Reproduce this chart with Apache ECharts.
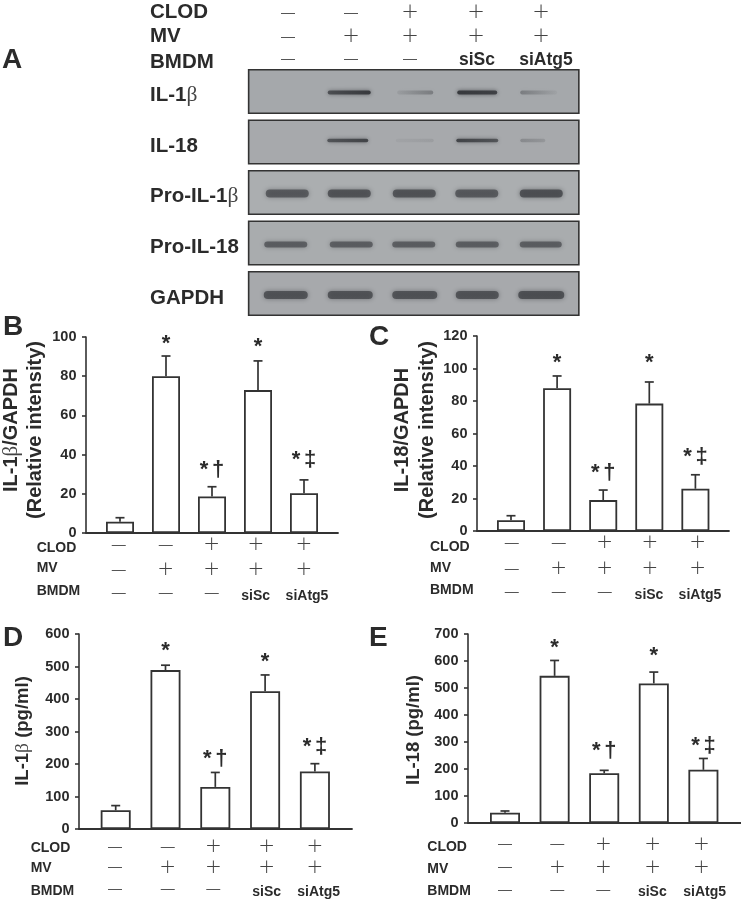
<!DOCTYPE html>
<html><head><meta charset="utf-8">
<style>html,body{margin:0;padding:0;background:#fff}#c{width:741px;height:902px}</style>
<script src="https://cdn.jsdelivr.net/npm/echarts@6/dist/echarts.min.js"></script>
</head><body><div id="c"></div>
<script>
// ---- data ----
const clod = ['—','—','+','+','+'];
const mv = ['—','+','+','+','+'];
const bmdm = ['—','—','—','siSc','siAtg5'];
const blotNames = ['IL-1β','IL-18','Pro-IL-1β','Pro-IL-18','GAPDH'];
const il1bBlot = [0,0.9,0.35,0.9,0.35];
const il18Blot = [0,0.8,0.1,0.8,0.25];
const proIl1bBlot = [0.72,0.78,0.78,0.72,0.82];
const proIl18Blot = [0.68,0.68,0.68,0.68,0.68];
const gapdhBlot = [0.78,0.78,0.78,0.78,0.82];

const il1bRatio = [5.8,80,18.6,72.9,20.3];
const il1bRatioErr = [7.8,90.3,23.6,87.8,27.1];
const il18Ratio = [6.6,87.9,19,78.4,26];
const il18RatioErr = [9.4,95.4,25.2,91.7,34.6];
const il1bConc = [57.5,489,129.5,424,177];
const il1bConcErr = [72,504,174,474,201];
const il18Conc = [38,545,184,517,197];
const il18ConcErr = [44.5,602,195,559,239];
const signif = ['','*','*\u200a\u200a†','*','*\u200a\u200a‡'];

// ---- layout ----
const F = '"Liberation Sans"';
const INK = '#2b2b2b';
const panels = [
 {values:il1bRatio, err:il1bRatioErr, max:100, step:20, L:86,R:338,T:337,B:533, c0:120,s:46,bw:28,
  lift:[0,15,20,16.7,23], labelX:36.7, labelY:[547.7,568,590.7], markX:[118.7,165.7,211.7,256,304], markY:[545,570,593], sub:[255.7,307],subY:596,
  name:[['IL-1','β','/GAPDH'],['(Relative intensity)']], nameX:[11,35], nameY:430, nameSize:20},
 {values:il18Ratio, err:il18RatioErr, max:120, step:20, L:477,R:729,T:336,B:531, c0:511,s:46.1,bw:28,
  lift:[0,16,20,22,21], labelX:430, labelY:[546.7,568,590], markX:[511.7,558.7,604.7,650,697.7], markY:[543,569,592], sub:[649,700],subY:595,
  name:[['IL-18/GAPDH'],['(Relative intensity)']], nameX:[402,427], nameY:430, nameSize:20},
 {values:il1bConc, err:il1bConcErr, max:600, step:100, L:79,R:352,T:634,B:829, c0:115.7,s:49.8,bw:30,
  lift:[0,17,17,16,20], labelX:30.7, labelY:[847.7,868,890.7], markX:[115,167.7,213.3,266.7,315], markY:[846.7,867.3,889.3], sub:[266.7,318.7],subY:892,
  name:[['IL-1','β',' (pg/ml)']], nameX:[23], nameY:731, nameSize:18.5},
 {values:il18Conc, err:il18ConcErr, max:700, step:100, L:468,R:741,T:634,B:823, c0:505,s:49.6,bw:30,
  lift:[0,16,22,19,16], labelX:427.3, labelY:[847.3,869,890.7], markX:[505,557.3,603.3,652.7,701.3], markY:[844.3,867.3,890], sub:[652.3,704.7],subY:892,
  name:[['IL-18 (pg/ml)']], nameX:[414], nameY:730, nameSize:18.5}
];
const blotRows = [il1bBlot,il18Blot,proIl1bBlot,proIl18Blot,gapdhBlot];
// per-row band drawing: half-widths, height, vertical and horizontal offsets (px), left/right fade
const bandDraw = [
 {h:3.8,dy:1,blur:4,w:[0,21.5,18,20,18.5],dx:[0,-1,1.5,0,-2],fade:[[0,0],[0.75,1],[0.25,1],[1,0.9],[1,0.12]]},
 {h:3.4,dy:-1.5,blur:4,w:[0,20.5,19,21,12.5],dx:[0,-2.5,1,0,-8],fade:[[0,0],[0.8,1],[0.5,1],[1,0.8],[1,0.6]]},
 {h:8,dy:1,blur:5,w:[21.5,21.5,21.5,21.5,21.5],dx:[0.5,-1,0.5,-0.5,0.5],fade:null},
 {h:6,dy:1.5,blur:5,w:[21.5,21.5,21.5,21.5,21],dx:[-1,1,0,0,0],fade:null},
 {h:8,dy:1.5,blur:5,w:[22,22.5,22.5,21.5,23],dx:[-1,0,1,0,0.5],fade:null}
];
const blotFill = ['#a5a8ab','#a7a9ac','#abaeb0','#a9acae','#a7a9ac'];

// ---- helpers ----
const graphics = [];
function txt(t,x,y,size,opt){
  opt=opt||{};
  graphics.push({type:'text',x,y,rotation:opt.rot||0,silent:true,style:{text:t,x:0,y:0,
    font:(opt.weight||'bold')+' '+size+'px '+(opt.family||F),fill:opt.color||INK,
    align:opt.align||'left',verticalAlign:'middle'}});
}
function richTxt(parts,x,y,size,opt){
  opt=opt||{};
  const s=parts.map((p,i)=>(p==='β'?'{g|β}':'{b|'+p+'}')).join('');
  graphics.push({type:'text',x,y,rotation:opt.rot||0,silent:true,style:{text:s,x:0,y:0,align:opt.align||'left',verticalAlign:'middle',
    rich:{b:{fontFamily:F,fontWeight:'bold',fontSize:size,fill:INK},g:{fontFamily:'"Liberation Serif"',fontWeight:'normal',fontSize:size+1,fill:'#444'}}}});
}
function mark(t,x,y,plusSize,dashSize){
  if(t==='+') txt('+',x,y,plusSize,{align:'center',weight:'normal',family:'"DejaVu Sans Light","DejaVu Sans"',color:'#444'});
  else if(t==='—') txt('—',x,y,dashSize,{align:'center',weight:'normal',color:'#555'});
}
function table(labelX,labelY,markX,markY,sub,subY,labelSize,plusSize,dashSize,subSize){
  ['CLOD','MV','BMDM'].forEach((n,i)=>txt(n,labelX,labelY[i],labelSize));
  [clod,mv,bmdm].forEach((row,r)=>row.forEach((t,i)=>{
    if(t==='siSc'||t==='siAtg5') txt(t,sub[i-3],subY,subSize,{align:'center'});
    else mark(t,markX[i],markY[r],plusSize,dashSize);
  }));
}

// panel letters
[['A',2,60],['B',3,327],['C',369,337],['D',3,638],['E',369,638]].forEach(a=>txt(a[0],a[1],a[2],28));

// header of the blot
table(150,[12,36.5,62.5],[288,351,410,476,541],[13,37,59],[477,546],60,20.5,21,14,17.5);
[['IL-1','β'],['IL-18'],['Pro-IL-1','β'],['Pro-IL-18'],['GAPDH']].forEach((p,i)=>richTxt(p,150,[95,146,196,247,298][i],20.5));

// ---- option ----
const grids=[],xAxes=[],yAxes=[],series=[];
panels.forEach((p,k)=>{
  grids.push({left:p.L,top:p.T,width:p.R-p.L,height:p.B-p.T,containLabel:false});
  xAxes.push({type:'value',gridIndex:k,min:(p.L-p.c0)/p.s,max:(p.R-p.c0)/p.s,show:true,
    axisLine:{show:true,onZero:false,lineStyle:{color:'#333',width:1.8}},axisTick:{show:false},axisLabel:{show:false},splitLine:{show:false}});
  yAxes.push({type:'value',gridIndex:k,min:0,max:p.max,interval:p.step,
    axisLine:{show:true,onZero:false,lineStyle:{color:'#333',width:1.6}},
    axisTick:{show:true,length:4,lineStyle:{color:'#333',width:1.6}},
    axisLabel:{margin:9.5,color:INK,fontFamily:F,fontWeight:'bold',fontSize:14.5},splitLine:{show:false}});
  series.push({type:'bar',xAxisIndex:k,yAxisIndex:k,barWidth:p.bw,silent:true,z:3,
    data:p.values.map((v,i)=>[i,v]),
    itemStyle:{color:'#fff',borderColor:'#333',borderWidth:1.8}});
  series.push({type:'custom',xAxisIndex:k,yAxisIndex:k,silent:true,z:2,
    data:p.values.map((v,i)=>[i,v,p.err[i]]),
    encode:{x:0,y:[1,2]},
    renderItem(params,api){
      const a=api.coord([api.value(0),api.value(1)]),b=api.coord([api.value(0),api.value(2)]);
      const st={stroke:'#333',lineWidth:1.7,fill:null};
      return {type:'group',children:[
        {type:'line',shape:{x1:a[0],y1:a[1],x2:b[0],y2:b[1]},style:st},
        {type:'line',shape:{x1:b[0]-4.5,y1:b[1],x2:b[0]+4.5,y2:b[1]},style:st}]};
    }});
  series.push({type:'custom',xAxisIndex:k,yAxisIndex:k,silent:true,z:4,
    data:p.err.map((v,i)=>[i,v]),
    renderItem(params,api){
      const c=api.coord([api.value(0),api.value(1)]);
      const t=signif[params.dataIndex];
      if(!t) return {type:'group',children:[]};
      return {type:'text',x:c[0],y:c[1]-p.lift[params.dataIndex]+3,style:{text:t,align:'center',verticalAlign:'middle',
        font:'bold 22px '+F,fill:INK}};
    }});
  table(p.labelX,p.labelY,p.markX,p.markY,p.sub,p.subY,14,20,14,14);
  p.name.forEach((parts,i)=>richTxt(parts,p.nameX[i],p.nameY,p.nameSize,{rot:Math.PI/2,align:'center'}));
});

// blot panel
const bi=panels.length;
grids.push({left:255,top:66.25,width:317.5,height:252.5});
xAxes.push({type:'value',gridIndex:bi,min:-0.5,max:4.5,show:false});
yAxes.push({type:'value',gridIndex:bi,min:-0.5,max:4.5,inverse:true,show:false});
series.push({type:'custom',xAxisIndex:bi,yAxisIndex:bi,silent:true,clip:false,z:1,
  data:blotRows.map((r,i)=>[i]),
  renderItem(params,api){
    const i=api.value(0);
    const a=api.coord([-0.6,i-0.43]),b=api.coord([4.6,i+0.43]);
    return {type:'rect',shape:{x:a[0],y:a[1],width:b[0]-a[0],height:b[1]-a[1]},
      style:{fill:blotFill[i],stroke:'#333',lineWidth:1.6}};
  }});
const bandData=[];
blotRows.forEach((row,r)=>row.forEach((v,l)=>{ if(v>0) bandData.push([l,r,v]); }));
series.push({type:'custom',xAxisIndex:bi,yAxisIndex:bi,silent:true,clip:false,z:2,
  data:bandData,
  renderItem(params,api){
    const l=api.value(0),r=api.value(1),v=api.value(2),d=bandDraw[r];
    const c=api.coord([l,r]),w=d.w[l],h=d.h;
    const rgb=r<2?'48,50,54':'66,68,72';
    const col=a=>'rgba('+rgb+','+a+')';
    const fade=d.fade?d.fade[l]:[1,1];
    const fill={type:'linear',x:0,y:0,x2:1,y2:0,colorStops:[
      {offset:0,color:col(v*fade[0])},{offset:0.5,color:col(v*(fade[0]+fade[1])/2)},{offset:1,color:col(v*fade[1])}]};
    return {type:'rect',shape:{x:c[0]+d.dx[l]-w,y:c[1]+d.dy-h/2,width:2*w,height:h,r:h/2},
      style:{fill,shadowBlur:d.blur,shadowColor:col(v*(fade[0]+fade[1])/2*0.9)}};
  }});

const chart=echarts.init(document.getElementById('c'),null,{renderer:'canvas'});
chart.setOption({animation:false,backgroundColor:'#fff',grid:grids,xAxis:xAxes,yAxis:yAxes,series,graphic:{elements:graphics}});
</script></body></html>
